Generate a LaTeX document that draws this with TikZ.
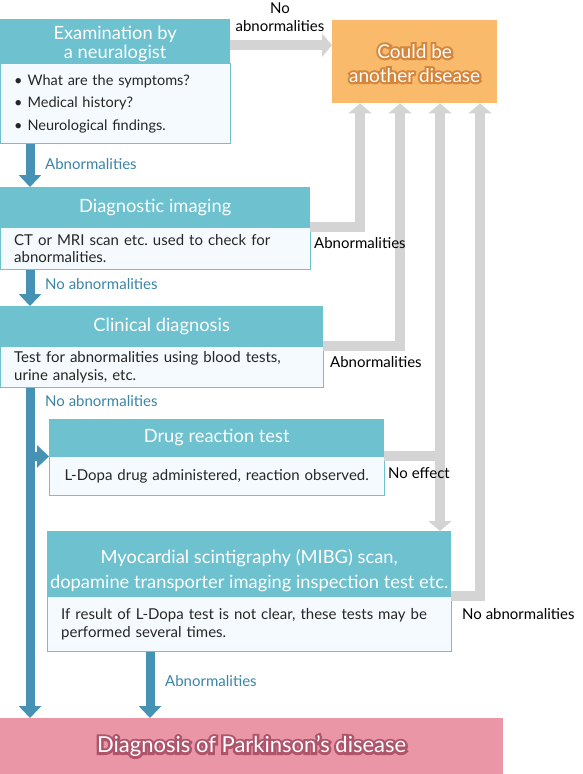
\documentclass[tikz,border=0pt]{standalone}
\usepackage{fontspec}
\setmainfont{Lato}
\newfontfamily\outlinefont[FakeBold=22]{Lato}
\usetikzlibrary{arrows.meta}
\definecolor{headteal}{RGB}{110,193,207}
\definecolor{bodyfill}{RGB}{244,250,253}
\definecolor{flowblue}{RGB}{70,146,180}
\definecolor{labelblue}{RGB}{58,132,166}
\definecolor{backgrey}{RGB}{212,212,212}
\definecolor{otherfill}{RGB}{249,186,108}
\definecolor{otherline}{RGB}{214,134,58}
\definecolor{pdfill}{RGB}{234,150,167}
\definecolor{pdline}{RGB}{176,84,108}
% white text over a fake-bold copy in the outline colour
\newcommand\outlined[2]{\leavevmode\rlap{\outlinefont\color{#1}#2}#2}
\frenchspacing
\begin{document}
\begin{tikzpicture}[
    x=1pt, y=-1pt,
    headbox/.style={fill=headteal, anchor=north west, minimum width=#1, inner sep=0pt,
        text=white, align=center, font=\fontsize{18.3}{19}\selectfont},
    bodybox/.style={draw=headteal, fill=bodyfill, anchor=north west, inner xsep=14pt, inner ysep=0pt,
        text width=#1, align=left, text=black!85, font=\fontsize{15}{17.5}\selectfont},
    greyarrow/.style={-{Triangle[width=23pt,length=10pt]}, draw=backgrey, line width=10pt},
    bluearrow/.style={-{Triangle[width=22pt,length=12pt]}, draw=flowblue, line width=9pt},
    bluelabel/.style={anchor=west, inner sep=0pt, text=labelblue, font=\fontsize{15}{17}\selectfont},
    blacklabel/.style={anchor=west, inner sep=0pt, text=black, font=\fontsize{15}{17}\selectfont}
]
    \useasboundingbox (0,0) rectangle (582,774);

    % steps
    \node[headbox=230pt, minimum height=44pt] (hd1) at (0,19) {\rule{0pt}{19pt}Examination by\\a neuralogist};
    \node[bodybox=202pt, minimum height=80pt, font=\fontsize{14.5}{22.5}\selectfont] (bd1) at (hd1.south west)
        {\textbullet\hspace{5pt}What are the symptoms?\\\textbullet\hspace{5pt}Medical history?\\\textbullet\hspace{5pt}Neurological findings.};

    \node[headbox=310pt, minimum height=40pt] (hd2) at (0,187) {Diagnostic imaging};
    \node[bodybox=282pt, minimum height=42pt] (bd2) at (hd2.south west)
        {CT or MRI scan etc. used to check for\\abnormalities.};

    \node[headbox=323pt, minimum height=40pt] (hd3) at (0,306) {Clinical diagnosis};
    \node[bodybox=295pt, minimum height=41pt] (bd3) at (hd3.south west)
        {Test for abnormalities using blood tests,\\urine analysis, etc.};

    \node[headbox=335pt, minimum height=37pt] (hd4) at (49,419) {Drug reaction test};
    \node[bodybox=307pt, minimum height=39pt, align=center] (bd4) at (hd4.south west)
        {L-Dopa drug administered, reaction observed.};

    \node[headbox=404pt, minimum height=65pt, font=\fontsize{18.3}{25}\selectfont] (hd5) at (47,531)
        {\rule{0pt}{27pt}Myocardial scintigraphy (MIBG) scan,\\dopamine transporter imaging inspection test etc.};
    \node[bodybox=376pt, minimum height=55pt] (bd5) at (hd5.south west)
        {If result of L-Dopa test is not clear, these tests may be\\performed several times.};

    % outcomes
    \node[fill=otherfill, anchor=north west, minimum width=165pt, minimum height=83pt, inner sep=0pt,
        text=white, align=center, font=\fontsize{19}{24}\selectfont] (other) at (332,20)
        {\rule{0pt}{17pt}\outlined{otherline}{Could be}\\\outlined{otherline}{another disease}};
    \node[fill=pdfill, anchor=north west, minimum width=503pt, minimum height=56pt, inner sep=0pt,
        text=white, font=\fontsize{22}{24}\selectfont] (pd) at (0,718)
        {\outlined{pdline}{Diagnosis of Parkinson’s disease}};

    % grey arrows
    \draw[greyarrow] ([yshift=-4pt]hd1.east) -- ([yshift=-4pt]hd1.east -| other.west);
    \draw[greyarrow] (hd2.south east) -| ([xshift=28pt]other.south west);
    \draw[greyarrow] (hd3.south east) -| ([xshift=68pt]other.south west);
    \draw[greyarrow] (hd4.south east) -| ([xshift=108pt]other.south west);
    \draw[greyarrow] ([xshift=108pt]other.south west |- hd4.south east) -- ([xshift=108pt]other.south west |- hd5.north);
    \draw[greyarrow] (hd5.south east) -| ([xshift=148pt]other.south west);

    % blue arrows
    \draw[bluearrow] ([xshift=30pt]bd1.south west) -- ([xshift=30pt]hd2.north west);
    \draw[bluearrow] ([xshift=30pt]bd2.south west) -- ([xshift=30pt]hd3.north west);
    \draw[bluearrow] ([xshift=30pt]bd3.south west) -- ([xshift=30pt]pd.north west);
    \draw[bluearrow] ([xshift=30pt]bd3.south west |- hd4.south west) -- (hd4.south west);
    \draw[bluearrow] ([xshift=103pt]bd5.south west) -- ([xshift=103pt]bd5.south west |- pd.north);

    % labels
    \node[blacklabel, anchor=center, align=center, font=\fontsize{15}{18}\selectfont] (l0) at (280,17) {No\\abnormalities};
    \node[bluelabel] (l1) at (45,164) {Abnormalities};
    \node[bluelabel] (l2) at (45,284) {No abnormalities};
    \node[bluelabel] (l3) at (45,401) {No abnormalities};
    \node[bluelabel] (l4) at (165,681) {Abnormalities};
    \node[blacklabel] (l5) at (314,243) {Abnormalities};
    \node[blacklabel] (l6) at (330,362) {Abnormalities};
    \node[blacklabel] (l7) at (388,473) {No effect};
    \node[blacklabel] (l8) at (462,614) {No abnormalities};
\end{tikzpicture}
\end{document}
